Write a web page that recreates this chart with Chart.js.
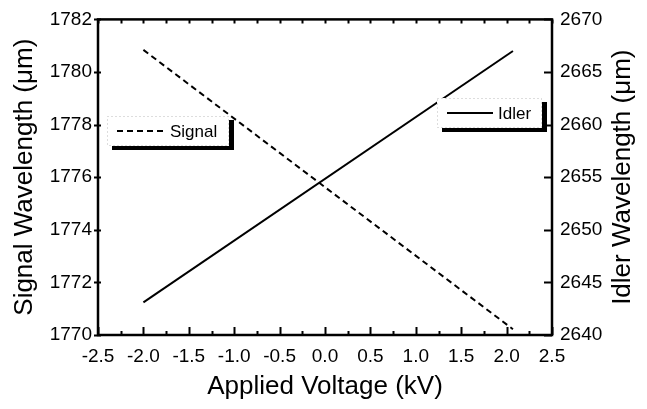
<!DOCTYPE html>
<html>
<head>
<meta charset="utf-8">
<script src="https://cdn.jsdelivr.net/npm/chart.js@4"></script>
<style>
  html, body { margin: 0; padding: 0; background: #fff; }
  #chart { display: block; }
</style>
</head>
<body>
<canvas id="chart" width="647" height="409"></canvas>
<script>
// values
const voltage = [-2.0, 2.07];
const signalWl = [1780.84, 1770.22];
const idlerWl = [2643.1, 2667.0];

const xRange = [-2.5, 2.5];
const signalRange = [1770, 1782];
const idlerRange = [2640, 2670];

const FONT = '"Liberation Sans", Arial, Helvetica, sans-serif';

Chart.defaults.font.family = FONT;
Chart.defaults.color = '#000';

// frame, inward tick marks, legend boxes and right title
const decorPlugin = {
    id: 'decor',
    afterDatasetsDraw(chart) {
        const c = chart.ctx;
        const a = chart.chartArea;
        const xs = chart.scales.x;
        const yl = chart.scales.y;
        const yr = chart.scales.y2;

        c.save();
        c.strokeStyle = '#000';
        c.lineWidth = 2.5;
        c.strokeRect(a.left, a.top, a.right - a.left, a.bottom - a.top);

        c.lineWidth = 2;
        c.beginPath();
        // x ticks every 0.25, bottom and top
        for (let v = xRange[0]; v <= xRange[1] + 1e-9; v += 0.25) {
            const px = Math.round(xs.getPixelForValue(v)) + 0.5;
            const major = Math.abs(v * 2 - Math.round(v * 2)) < 1e-6;
            c.moveTo(px, a.bottom);
            c.lineTo(px, a.bottom - (major ? 8 : 4));
            c.moveTo(px, a.top);
            c.lineTo(px, a.top + 4);
        }
        // left ticks
        yl.ticks.forEach(t => {
            const py = Math.round(yl.getPixelForValue(t.value)) + 0.5;
            c.moveTo(a.left - 4, py);
            c.lineTo(a.left + 3, py);
        });
        // right ticks
        yr.ticks.forEach(t => {
            const py = Math.round(yr.getPixelForValue(t.value)) + 0.5;
            c.moveTo(a.right, py);
            c.lineTo(a.right - 8, py);
        });
        c.stroke();

        // legend boxes
        const boxes = [
            { ds: 0, x: 107, y: 116, w: 122, h: 30, x1: 117, x2: 167, tx: 170 },
            { ds: 1, x: 437, y: 98, w: 105, h: 30, x1: 447, x2: 493, tx: 498 }
        ];
        boxes.forEach(b => {
            const ds = chart.data.datasets[b.ds];
            c.fillStyle = '#000';
            c.fillRect(b.x + 5, b.y + 4, b.w, b.h);
            c.fillStyle = '#fff';
            c.fillRect(b.x, b.y, b.w, b.h);
            c.setLineDash([1, 3]);
            c.strokeStyle = '#bbb';
            c.lineWidth = 1;
            c.strokeRect(b.x + 0.5, b.y + 0.5, b.w - 1, b.h - 1);
            const my = b.y + b.h / 2;
            c.strokeStyle = '#000';
            c.lineWidth = 2;
            c.setLineDash(ds.borderDash || []);
            c.beginPath();
            c.moveTo(b.x1, my);
            c.lineTo(b.x2, my);
            c.stroke();
            c.setLineDash([]);
            c.fillStyle = '#000';
            c.font = '17px ' + FONT;
            c.textAlign = 'left';
            c.textBaseline = 'middle';
            c.fillText(ds.label, b.tx, my + 1);
        });

        // right axis title reads bottom to top
        c.translate(623, (a.top + a.bottom) / 2);
        c.rotate(-Math.PI / 2);
        c.font = '26px ' + FONT;
        c.textAlign = 'center';
        c.textBaseline = 'middle';
        c.fillText('Idler Wavelength (\u03bcm)', 0, 0);
        c.restore();
    }
};

const ctx = document.getElementById('chart').getContext('2d');

const chart = new Chart(ctx, {
    type: 'line',
    data: {
        datasets: [{
            label: 'Signal',
            data: voltage.map((v, i) => ({ x: v, y: signalWl[i] })),
            yAxisID: 'y',
            borderColor: '#000',
            borderWidth: 2,
            borderDash: [6, 4],
            pointRadius: 0,
            fill: false
        }, {
            label: 'Idler',
            data: voltage.map((v, i) => ({ x: v, y: idlerWl[i] })),
            yAxisID: 'y2',
            borderColor: '#000',
            borderWidth: 2,
            pointRadius: 0,
            fill: false
        }]
    },
    options: {
        responsive: false,
        animation: false,
        devicePixelRatio: 1,
        layout: { padding: { top: 14 } },
        plugins: {
            legend: { display: false },
            tooltip: { enabled: false }
        },
        scales: {
            x: {
                type: 'linear',
                position: 'bottom',
                min: xRange[0],
                max: xRange[1],
                grid: { display: false, drawTicks: false },
                border: { display: false },
                ticks: {
                    stepSize: 0.5,
                    autoSkip: false,
                    maxRotation: 0,
                    padding: 10,
                    font: { size: 19 },
                    callback: v => v.toFixed(1)
                },
                title: {
                    display: true,
                    text: 'Applied Voltage (kV)',
                    font: { size: 26 },
                    padding: { top: 0, bottom: 7 }
                },
                afterFit(s) { s.height = 74; }
            },
            y: {
                position: 'left',
                min: signalRange[0],
                max: signalRange[1],
                grid: { display: false, drawTicks: false },
                border: { display: false },
                ticks: {
                    stepSize: 2,
                    padding: 6,
                    font: { size: 19 },
                    callback: v => String(v)
                },
                title: {
                    display: true,
                    text: 'Signal Wavelength (\u03bcm)',
                    font: { size: 26 },
                    padding: { top: 9, bottom: 0 }
                },
                afterFit(s) { s.width = 98; }
            },
            y2: {
                position: 'right',
                min: idlerRange[0],
                max: idlerRange[1],
                grid: { display: false, drawTicks: false },
                border: { display: false },
                ticks: {
                    stepSize: 5,
                    padding: 8,
                    font: { size: 19 },
                    callback: v => String(v)
                },
                title: { display: false },
                afterFit(s) { s.width = 95; }
            }
        }
    },
    plugins: [decorPlugin]
});
</script>
</body>
</html>
